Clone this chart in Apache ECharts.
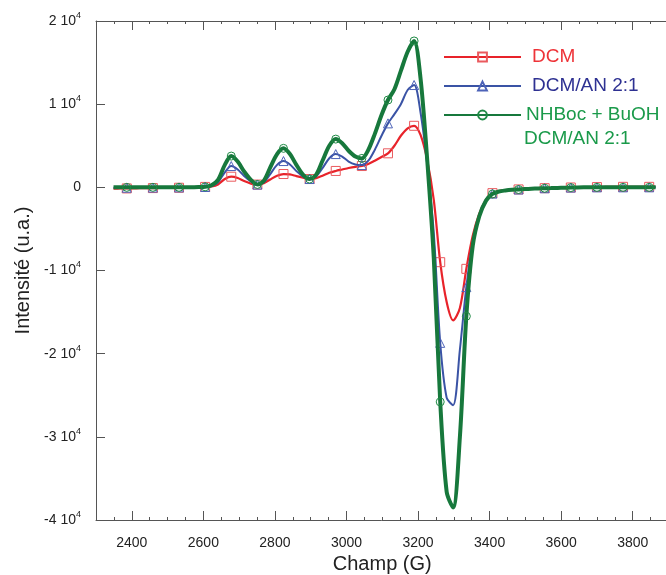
<!DOCTYPE html>
<html><head><meta charset="utf-8">
<script src="https://cdn.jsdelivr.net/npm/echarts@6/dist/echarts.min.js"></script>
<style>html,body{margin:0;padding:0;background:#fff}#c{width:666px;height:575px}</style>
</head><body><div id="c"></div>
<script>
// Field (G) sample positions
const field = [2349,2368,2386,2404,2422,2441,2459,2477,2495,2514,2532,2550,2568,2587,2605,2623,2641,2660,2678,2696,
  2714,2733,2751,2769,2787,2806,2824,2842,2860,2879,2897,2915,2933,2952,2970,2988,3006,3025,3043,3061,
  3079,3098,3116,3134,3152,3171,3189,3207,3225,3244,3262,3280,3298,3317,3335,3353,3371,3390,3408,3426,
  3444,3463,3481,3499,3517,3536,3554,3572,3590,3609,3627,3645,3663,3682,3700,3718,3736,3755,3773,3791,
  3809,3828,3846,3864];

// Series values (u.a.)
const dcm = [-150,-140,-130,-120,-110,-100,-90,-80,-70,-60,-50,-30,-10,10,
  50,100,350,1000,1280,1120,750,450,330,
  500,950,1400,1600,1550,1350,1150,1000,
  1100,1400,1750,1970,2150,2330,2470,2560,
  2800,3200,3650,4090,5000,6200,7100,7400,
  6300,3400,-1500,-9000,-13800,-16000,-14500,-9800,
  -5800,-3200,-1500,-700,-450,-350,-280,-250,-200,-160,-130,-100,-80,-60,-40,-20,
  0,10,20,30,40,50,50,60,60,60,60,60,60];
const dcmAn = [-60,-60,-50,-50,-40,-40,-30,-30,-20,-20,-10,0,10,20,
  40,150,600,1800,2560,2150,1350,700,330,
  600,1600,2700,3160,2750,1950,1300,1000,
  1300,2300,3500,4000,3700,3100,2750,2680,
  3200,4500,6200,7690,8800,10000,11700,12300,
  9000,3000,-5500,-18700,-25300,-26200,-19500,-12000,
  -6500,-3400,-1600,-750,-480,-370,-290,-260,-210,-170,-140,-110,-90,-70,-50,-30,
  -10,0,0,0,0,0,0,0,0,0,0,0,0];
const nhboc = [0,0,0,0,0,0,0,0,0,0,0,10,20,30,
  60,250,900,2700,3760,3100,1900,900,350,
  800,2400,4000,4690,4000,2700,1500,1000,
  1500,3200,5000,5800,5300,4400,3700,3480,
  4500,6400,8700,10500,11800,14000,16300,17600,
  13100,3700,-8500,-25800,-36600,-38500,-30000,-15500,
  -7000,-3500,-1600,-800,-500,-380,-300,-260,-210,-170,-140,-110,-90,-70,-50,-30,
  -10,0,0,0,0,0,0,0,0,0,0,0,0];

const seriesNames = ['DCM', 'DCM/AN 2:1', 'NHBoc + BuOH'];
const legendSecondLine = 'DCM/AN 2:1';
const xMajorTicks = [2400,2600,2800,3000,3200,3400,3600,3800];

const F = '"Liberation Sans", Arial, Helvetica, sans-serif';
const AX = '#555';

function toData(vals){
  return vals.map((v,i) => (i % 4 === 2) ? [field[i], v] : {value:[field[i], v], symbol:'none'});
}

const chart = echarts.init(document.getElementById('c'), null, {renderer:'canvas'});

function xAxisPair(pos){
  return [
    {type:'value', position:pos, min:2300, max:3900, interval:50,
     axisLine:{show:true, onZero:false, lineStyle:{color:AX, width:1}},
     axisTick:{show:true, inside:true, length:3, lineStyle:{color:AX}},
     axisLabel:{show:false}, splitLine:{show:false}},
    {type:'value', position:pos, min:2300, max:3900,
     axisLine:{show:false, onZero:false},
     axisTick:{show:true, inside:true, length:9, customValues:xMajorTicks, lineStyle:{color:AX}},
     axisLabel:{show: pos==='bottom', customValues:xMajorTicks, fontSize:14, color:'#222', fontFamily:F, margin:16,
       formatter: v => String(v)},
     splitLine:{show:false},
     name: pos==='bottom' ? 'Champ (G)' : '', nameLocation:'middle', nameGap:30,
     nameTextStyle:{fontSize:20, color:'#222', fontFamily:F}}
  ];
}

const option = {
  animation:false,
  backgroundColor:'#fff',
  grid:{left:96, top:21, width:572.5, height:499, containLabel:false, outerBoundsMode:'none'},
  xAxis: xAxisPair('bottom').concat(xAxisPair('top')),
  yAxis: [{type:'value', min:-40000, max:20000, interval:10000,
    axisLine:{show:true, onZero:false, lineStyle:{color:AX}},
    axisTick:{show:true, inside:true, length:9, lineStyle:{color:AX}},
    splitLine:{show:false},
    axisLabel:{fontSize:14, color:'#222', fontFamily:F, margin:15, lineHeight:20,
      formatter: v => v === 0 ? '0' : (v/10000) + ' 10{s|4}',
      rich:{s:{fontSize:9, lineHeight:9, verticalAlign:'top', color:'#222', fontFamily:F}}},
    name:'Intensité (u.a.)', nameLocation:'middle', nameGap:62, nameRotate:90,
    nameTextStyle:{fontSize:20, color:'#222', fontFamily:F}}],
  legend:{orient:'vertical', left:443, top:47.5, padding:0, itemWidth:77, itemHeight:11, itemGap:10,
    align:'left', selectedMode:false,
    textStyle:{fontSize:19, fontFamily:F},
    data:[
      {name:seriesNames[0], textStyle:{color:'#ee3338', padding:[0,0,0,6]}},
      {name:seriesNames[1], textStyle:{color:'#2e3192', padding:[0,0,0,6]}},
      {name:seriesNames[2], textStyle:{color:'#1a9a4a'}}
    ]},
  graphic:[{type:'text', left:524, top:129,
    style:{text:legendSecondLine, fill:'#1a9a4a', font:'19px ' + F}}],
  series:[
    {name:seriesNames[0], type:'line', xAxisIndex:1, data:toData(dcm), smooth:0.3,
     symbol:'rect', symbolSize:9, showAllSymbol:true,
     lineStyle:{color:'#e8232a', width:2.2},
     itemStyle:{color:'rgba(0,0,0,0)', borderColor:'#ea5a5e', borderWidth:1}, z:2},
    {name:seriesNames[1], type:'line', xAxisIndex:1, data:toData(dcmAn), smooth:0.3,
     symbol:'triangle', symbolSize:9, showAllSymbol:true,
     lineStyle:{color:'#3a53a5', width:2},
     itemStyle:{color:'rgba(0,0,0,0)', borderColor:'#4d63b8', borderWidth:1}, z:3},
    {name:seriesNames[2], type:'line', xAxisIndex:1, data:toData(nhboc), smooth:0.3,
     symbol:'circle', symbolSize:8, showAllSymbol:true,
     lineStyle:{color:'#17783c', width:4},
     itemStyle:{color:'rgba(0,0,0,0)', borderColor:'#1f8a45', borderWidth:1}, z:4}
  ]
};
chart.setOption(option);
</script></body></html>
